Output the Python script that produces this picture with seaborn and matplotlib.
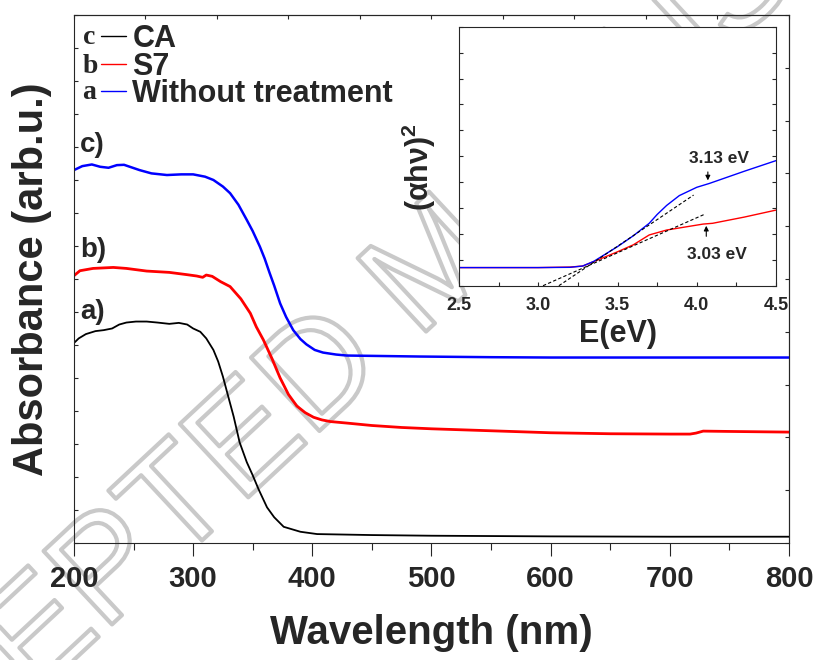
import numpy as np
import pandas as pd
import matplotlib
matplotlib.use("Agg")
import matplotlib.pyplot as plt
import matplotlib.patheffects as pe
from matplotlib.lines import Line2D
import seaborn as sns

# --- main UV-vis spectra (arbitrary units) ---
wl_blue = [200, 207, 215, 222, 229, 236, 242, 255, 265, 278, 290, 300, 310, 317,
           325, 331, 338, 345, 350, 356, 360, 364, 368, 373, 378, 384, 390, 395,
           402, 409, 420, 429, 450, 490, 550, 600, 700, 800]
abs_blue = [11.30, 11.42, 11.47, 11.40, 11.37, 11.45, 11.46, 11.30, 11.20, 11.15,
            11.17, 11.17, 11.10, 11.00, 10.80, 10.60, 10.25, 9.79, 9.45, 8.98, 8.62,
            8.20, 7.80, 7.26, 6.85, 6.45, 6.18, 6.02, 5.85, 5.77, 5.71, 5.68, 5.67,
            5.65, 5.63, 5.62, 5.62, 5.62]

wl_red = [200, 205, 216, 233, 244, 261, 280, 295, 303, 308, 311, 316, 323, 331,
          340, 348, 353, 359, 366, 373, 380, 387, 394, 401, 408, 415, 430, 450,
          475, 500, 550, 600, 650, 700, 717, 722, 728, 750, 800]
abs_red = [8.10, 8.25, 8.32, 8.35, 8.32, 8.24, 8.20, 8.13, 8.09, 8.05, 8.12, 8.08,
           7.92, 7.77, 7.40, 6.96, 6.55, 6.15, 5.60, 5.00, 4.50, 4.15, 3.95, 3.81,
           3.73, 3.68, 3.63, 3.56, 3.50, 3.46, 3.40, 3.34, 3.31, 3.30, 3.30, 3.33,
           3.39, 3.38, 3.36]

wl_black = [200, 204, 210, 218, 225, 232, 238, 244, 252, 261, 270, 280, 288, 295,
            300, 306, 311, 317, 321, 325, 329, 334, 339, 345, 350, 355, 362, 368,
            376, 390, 404, 450, 500, 600, 700, 800]
abs_black = [6.06, 6.20, 6.33, 6.42, 6.45, 6.50, 6.62, 6.68, 6.71, 6.71, 6.68, 6.64,
             6.67, 6.62, 6.50, 6.40, 6.20, 5.85, 5.50, 5.04, 4.50, 3.83, 3.05, 2.45,
             2.05, 1.62, 1.08, 0.78, 0.49, 0.34, 0.27, 0.24, 0.22, 0.20, 0.19, 0.19]

# --- inset: Tauc plot ---
e_blue = [2.5, 3.0, 3.2, 3.28, 3.35, 3.5, 3.6, 3.7, 3.75, 3.81, 3.89, 4.0, 4.08,
          4.3, 4.5]
tauc_blue = [0.70, 0.70, 0.71, 0.76, 0.94, 1.51, 1.93, 2.41, 2.75, 3.10, 3.48,
             3.80, 3.95, 4.42, 4.83]
e_red = [2.5, 3.0, 3.2, 3.28, 3.35, 3.5, 3.6, 3.7, 3.81, 3.96, 4.04, 4.1, 4.3, 4.5]
tauc_red = [0.70, 0.70, 0.72, 0.76, 0.93, 1.31, 1.58, 1.96, 2.15, 2.30, 2.38,
            2.41, 2.65, 2.92]
fit_blue_e = [3.13, 3.98]
fit_blue_y = [0.0, 3.50]
fit_red_e = [3.03, 4.05]
fit_red_y = [0.0, 2.76]

labels = ["CA", "S7", "Without treatment"]
letters = ["c", "b", "a"]
colors = ["black", "#ff0000", "#0000ff"]

sns.set_style("ticks")
plt.rcParams["font.family"] = ["Liberation Sans", "DejaVu Sans"]
plt.rcParams["font.weight"] = "bold"
plt.rcParams["axes.linewidth"] = 0.8
plt.rcParams["mathtext.fontset"] = "custom"
plt.rcParams["mathtext.bf"] = "Liberation Sans:bold"
plt.rcParams["mathtext.rm"] = "Liberation Sans:bold"

fig = plt.figure(figsize=(8.21, 6.60), dpi=100)
fig.patch.set_facecolor("white")

# watermark behind everything
fig.text(0.535, 0.595, "ACCEPTED MANUSCRIPT", rotation=43, fontsize=105,
         fontweight="normal", ha="center", va="center", color="none",
         zorder=-5, path_effects=[pe.Stroke(linewidth=3, foreground="#c9c9c9")])

ax = fig.add_axes([0.0901, 0.1773, 0.8709, 0.8])
ax.set_facecolor("none")

sns.lineplot(x=wl_black, y=abs_black, color=colors[0], lw=1.3, ax=ax)
sns.lineplot(x=wl_red, y=abs_red, color=colors[1], lw=2.0, ax=ax)
sns.lineplot(x=wl_blue, y=abs_blue, color=colors[2], lw=1.8, ax=ax)

ax.set_xlim(200, 800)
ax.set_ylim(0, 16)
ax.set_xticks(np.arange(200, 801, 100))
ax.set_xticks(np.arange(250, 800, 100), minor=True)
ax.set_yticks(np.arange(0, 17, 1))
ax.set_yticklabels([])
ax.tick_params(axis="x", which="major", direction="out", length=9, width=0.8,
               labelsize=21, pad=7)
ax.tick_params(axis="x", which="minor", direction="out", length=5, width=0.8)
ax.tick_params(axis="y", direction="in", length=3, width=0.8)
for t in ax.get_xticklabels():
    t.set_fontweight("bold")
ax.set_xlabel("Wavelength (nm)", fontsize=29, fontweight="bold", labelpad=15)
ax.set_ylabel("Absorbance (arb.u.)", fontsize=30, fontweight="bold", labelpad=12)

top = ax.secondary_xaxis("top")
top.set_xticks(np.arange(200, 801, 60))
top.tick_params(direction="in", length=3, width=0.8, labeltop=False)
right = ax.secondary_yaxis("right")
right.set_yticks(np.arange(0, 16.1, 1.6))
right.tick_params(direction="in", length=3, width=0.8, labelright=False)

for txt, yv in zip(["c)", "b)", "a)"], [12.06, 8.88, 7.0]):
    ax.text(205, yv, txt, fontsize=20, fontweight="bold", ha="left", va="center")

handles = [Line2D([], [], color=c, lw=1.0) for c in colors]
leg = ax.legend(handles, labels, loc="upper left", bbox_to_anchor=(0.021, 1.006),
                frameon=False, handlelength=0.82, handletextpad=0.2,
                labelspacing=-0.08, borderaxespad=0.0,
                prop={"size": 22, "weight": "bold"})
for lt, yv in zip(letters, [0.958, 0.902, 0.853]):
    ax.text(0.012, yv, lt, transform=ax.transAxes, fontsize=20,
            fontweight="bold", family="Liberation Serif", ha="left", va="center")

# inset
ins = fig.add_axes([0.5591, 0.5671, 0.3861, 0.3924])
ins.set_facecolor("white")
sns.lineplot(x=e_red, y=tauc_red, color=colors[1], lw=1.0, ax=ins)
sns.lineplot(x=e_blue, y=tauc_blue, color=colors[2], lw=1.0, ax=ins)
sns.lineplot(x=fit_blue_e, y=fit_blue_y, color="black", lw=0.8, ls=(0, (3, 2)), ax=ins)
sns.lineplot(x=fit_red_e, y=fit_red_y, color="black", lw=0.8, ls=(0, (3, 2)), ax=ins)
ins.set_xlim(2.5, 4.5)
ins.set_ylim(0, 10)
ins.set_xticks([2.5, 3.0, 3.5, 4.0, 4.5])
ins.set_xticks(np.arange(2.75, 4.5, 0.5), minor=True)
ins.set_yticks(np.arange(0, 10.1, 1))
ins.set_yticklabels([])
ins.tick_params(axis="x", which="both", direction="in", length=3, width=0.8,
                labelsize=13, pad=8)
ins.tick_params(axis="y", direction="in", length=3, width=0.8, right=True)
for t in ins.get_xticklabels():
    t.set_fontweight("bold")
ins.set_xlabel("E(eV)", fontsize=22, fontweight="bold", labelpad=4)
ins.set_ylabel("(αhν)$^\\mathbf{2}$", fontsize=22, fontweight="bold", labelpad=4)
ins.yaxis.set_label_coords(-0.065, 0.46)

ins.annotate("", xy=(4.07, 3.96), xytext=(4.07, 4.5),
             arrowprops=dict(arrowstyle="-|>", color="black", lw=0.8, mutation_scale=7))
ins.text(4.14, 4.92, "3.13 eV", fontsize=12.5, fontweight="bold", ha="center", va="center")
ins.annotate("", xy=(4.06, 2.42), xytext=(4.06, 1.8),
             arrowprops=dict(arrowstyle="-|>", color="black", lw=0.8, mutation_scale=7))
ins.text(4.13, 1.22, "3.03 eV", fontsize=12.5, fontweight="bold", ha="center", va="center")

fig.savefig("out.png", dpi=100, facecolor="white")
